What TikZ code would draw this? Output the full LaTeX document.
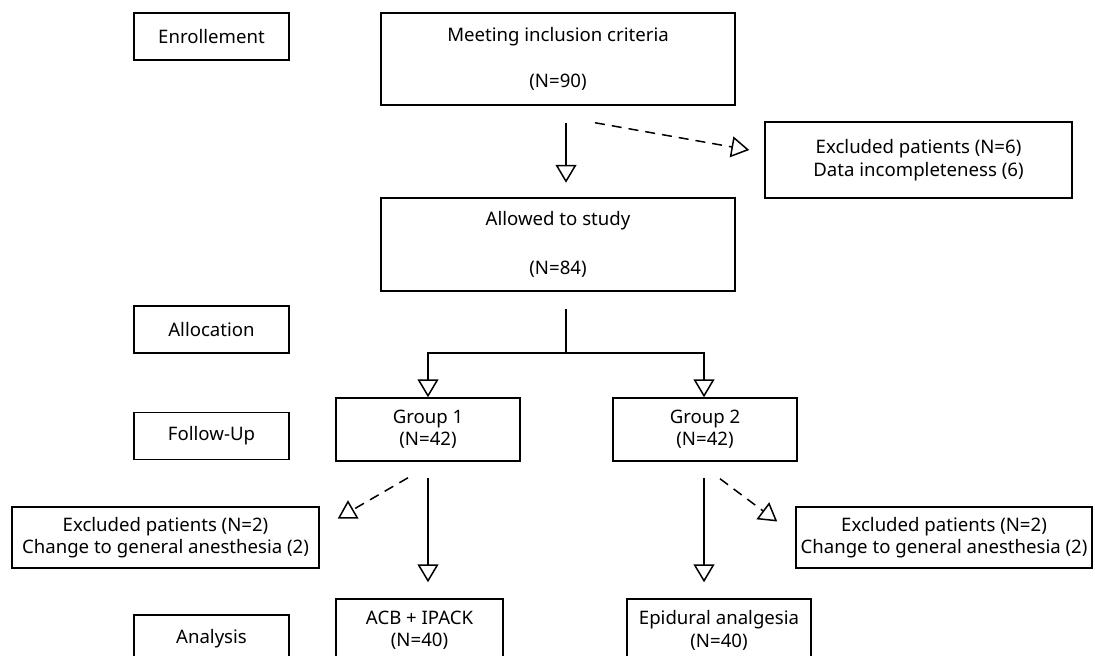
\documentclass[tikz,border=0pt]{standalone}
\usepackage{fontspec}
\setmainfont{Noto Sans}
\usetikzlibrary{arrows.meta,calc}

\begin{document}
\begin{tikzpicture}[
    x=0.5pt, y=-0.5pt,
    font=\fontsize{9.3}{11.2}\selectfont,
    box/.style={draw, line width=0.75pt, align=center, inner sep=0pt},
    stage/.style={box, minimum width=77.5pt, minimum height=23.5pt},
    arr/.style={line width=0.75pt, -{Triangle[open, length=9pt, width=10.5pt]}},
    darr/.style={arr, dash pattern=on 5pt off 3.5pt}
]
\path[use as bounding box, clip] (0,0) rectangle (1095,655);

% Stage labels
\node[stage] (enrol) at (211.5,36.5) {Enrollement};
\node[stage] (alloc) at (211.5,329.5) {Allocation};
\node[stage] (follow) at (211.5,436) {Follow-Up};
\node[stage] (anal) at (211.5,638.5) {Analysis};

% Main boxes
\node[box, minimum width=177pt, minimum height=46pt] (meet) at (558,59)
    {Meeting inclusion criteria\\[12pt](N=90)};
\node[box, minimum width=153.5pt, minimum height=38pt] (excl) at (918.5,160)
    {Excluded patients (N=6)\\Data incompleteness (6)};
\node[box, minimum width=177pt, minimum height=46.5pt] (allowed) at (558,244.5)
    {Allowed to study\\[13pt](N=84)};
\node[box, minimum width=92pt, minimum height=31.5pt] (grp1) at (428,429.5)
    {Group 1\\(N=42)};
\node[box, minimum width=92pt, minimum height=31.5pt] (grp2) at (705,429.5)
    {Group 2\\(N=42)};
\node[box, minimum width=153.5pt, minimum height=30.5pt] (exclL) at (165.5,537.5)
    {Excluded patients (N=2)\\Change to general anesthesia (2)};
\node[box, minimum width=148pt, minimum height=30.5pt] (exclR) at (944,537.5)
    {Excluded patients (N=2)\\Change to general anesthesia (2)};
\node[box, minimum width=83.5pt, minimum height=31.5pt] (acb) at (419.5,630.5)
    {ACB + IPACK\\(N=40)};
\node[box, minimum width=92pt, minimum height=31.5pt] (epi) at (719,630.5)
    {Epidural analgesia\\(N=40)};

% Enrollment
\draw[arr] ($(meet.south)+(8,17)$) -- ($(meet.south -| allowed.north)+(8,77)$);
\draw[darr] ($(meet.south)+(37,17)$) -- ($(excl.west)+(-15,-10)$);

% Allocation
\coordinate (split) at ($(allowed.south)+(8,61)$);
\draw[line width=0.75pt] ($(allowed.south)+(8,17)$) -- (split);
\draw[arr] (split) -| (grp1.north);
\draw[arr] (split) -| ([xshift=-0.5pt]grp2.north);

% Follow-up
\draw[arr] ($(grp1.south)+(0,16)$) -- ($(grp1.south |- acb.north)+(0,-16)$);
\draw[darr] ($(grp1.south)+(-20,16)$) -- ($(exclL.east)+(18,-19)$);
\draw[arr] ($(grp2.south)+(-1,16)$) -- ($(grp2.south |- epi.north)+(-1,-16)$);
\draw[darr] ($(grp2.south)+(15,17)$) -- ($(exclR.west)+(-18,-16)$);

\end{tikzpicture}
\end{document}
